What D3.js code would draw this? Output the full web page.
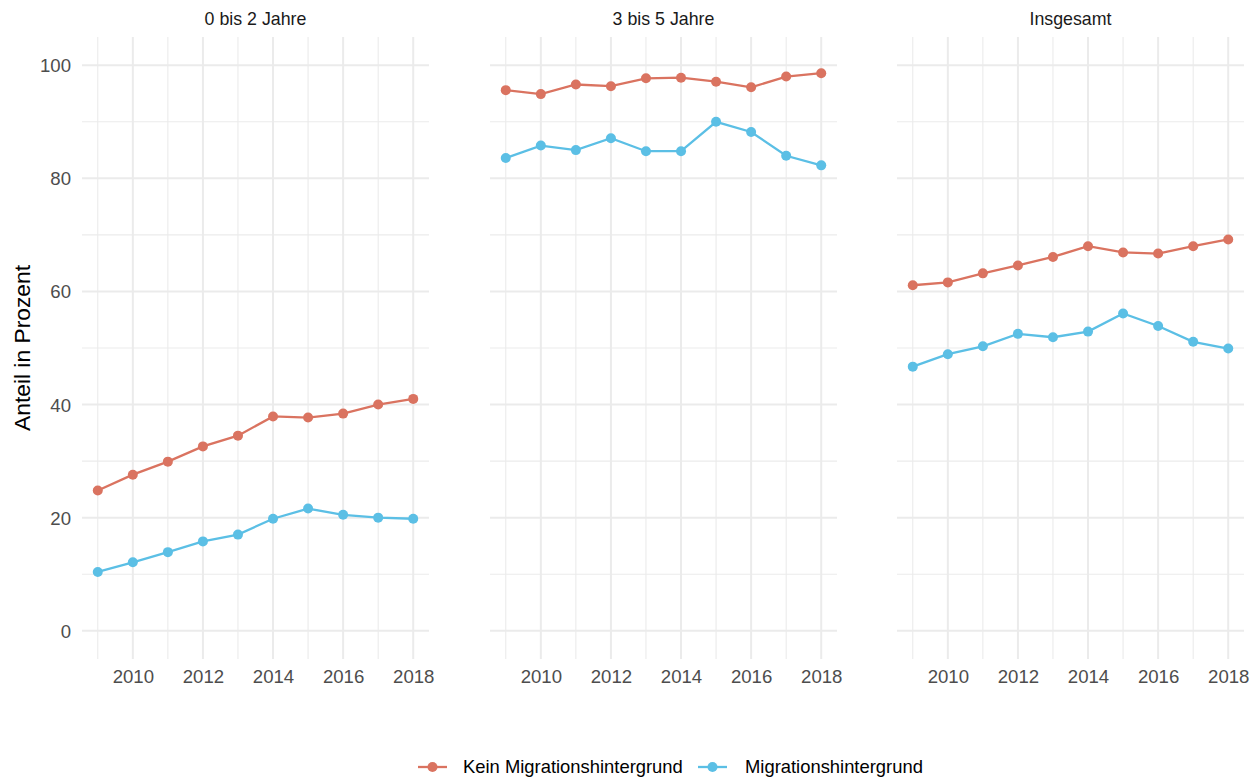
<!DOCTYPE html>
<html><head><meta charset="utf-8">
<script src="https://cdn.jsdelivr.net/npm/d3@7"></script>
<style>
html,body{margin:0;padding:0;background:#fff;}
svg{display:block;font-family:"Liberation Sans",Arial,sans-serif;}
</style></head>
<body>
<svg id="chart" width="1258" height="779"></svg>
<script>
const years = [2009,2010,2011,2012,2013,2014,2015,2016,2017,2018];
const facets = ["0 bis 2 Jahre","3 bis 5 Jahre","Insgesamt"];
const seriesNames = ["Kein Migrationshintergrund","Migrationshintergrund"];
const kein_0bis2 = [24.8,27.6,29.9,32.6,34.5,37.9,37.7,38.4,40.0,41.0];
const migr_0bis2 = [10.4,12.1,13.9,15.8,17.0,19.8,21.6,20.5,20.0,19.8];
const kein_3bis5 = [95.6,94.9,96.6,96.3,97.7,97.8,97.1,96.1,98.0,98.6];
const migr_3bis5 = [83.6,85.8,85.0,87.1,84.8,84.8,90.0,88.2,84.0,82.3];
const kein_ges = [61.1,61.6,63.2,64.6,66.1,68.0,66.9,66.7,68.0,69.2];
const migr_ges = [46.7,48.9,50.3,52.5,51.9,52.9,56.1,53.9,51.1,49.9];
const xTicks = [2010,2012,2014,2016,2018];
const yTicks = [0,20,40,60,80,100];
const yMinor = [10,30,50,70,90];

const colors = {"Kein Migrationshintergrund":"#DA7360","Migrationshintergrund":"#5BBFE5"};
const facetData = [
  {name:facets[0], series:[{name:seriesNames[0],values:kein_0bis2},{name:seriesNames[1],values:migr_0bis2}]},
  {name:facets[1], series:[{name:seriesNames[0],values:kein_3bis5},{name:seriesNames[1],values:migr_3bis5}]},
  {name:facets[2], series:[{name:seriesNames[0],values:kein_ges},{name:seriesNames[1],values:migr_ges}]}
];

const svg = d3.select("#chart");
const panelLefts = [82, 490, 897];
const panelW = 347;
const pTop = 37, pBottom = 659;
const y = d3.scaleLinear().domain([-5,105]).range([pBottom, pTop]);
const grid = "#EBEBEB";

facetData.forEach((f,i)=>{
  const x = d3.scaleLinear().domain([2008.55, 2018.45]).range([panelLefts[i], panelLefts[i]+panelW]);
  const g = svg.append("g");
  g.selectAll(".ymin").data(yMinor).join("line")
    .attr("x1",x.range()[0]).attr("x2",x.range()[1])
    .attr("y1",d=>y(d)).attr("y2",d=>y(d)).attr("stroke",grid).attr("stroke-width",1.1);
  g.selectAll(".xmin").data(years.filter(v=>!xTicks.includes(v))).join("line")
    .attr("x1",d=>x(d)).attr("x2",d=>x(d))
    .attr("y1",pTop).attr("y2",pBottom).attr("stroke",grid).attr("stroke-width",1.1);
  g.selectAll(".ymaj").data(yTicks).join("line")
    .attr("x1",x.range()[0]).attr("x2",x.range()[1])
    .attr("y1",d=>y(d)).attr("y2",d=>y(d)).attr("stroke",grid).attr("stroke-width",2);
  g.selectAll(".xmaj").data(xTicks).join("line")
    .attr("x1",d=>x(d)).attr("x2",d=>x(d))
    .attr("y1",pTop).attr("y2",pBottom).attr("stroke",grid).attr("stroke-width",2);

  const xa = d3.axisBottom(x).tickValues(xTicks).tickFormat(d3.format("d")).tickSize(0).tickPadding(0);
  const xg = svg.append("g").attr("transform",`translate(0,${pBottom+24})`).call(xa);
  xg.select(".domain").remove();
  xg.selectAll("text").attr("fill","#4D4D4D").attr("font-size","18.6px").attr("dy","0").attr("font-family","Liberation Sans, Arial, sans-serif");

  if(i===0){
    const ya = d3.axisLeft(y).tickValues(yTicks).tickSize(0).tickPadding(0);
    const yg = svg.append("g").attr("transform",`translate(71,0)`).call(ya);
    yg.select(".domain").remove();
    yg.selectAll("text").attr("fill","#4D4D4D").attr("font-size","18.6px").attr("dy","0.35em").attr("font-family","Liberation Sans, Arial, sans-serif");
  }

  svg.append("text").attr("x",(x.range()[0]+x.range()[1])/2).attr("y",25)
    .attr("text-anchor","middle").attr("font-size","17.8px").attr("fill","#1A1A1A").text(f.name);

  const line = d3.line().x((d,j)=>x(years[j])).y(d=>y(d));
  f.series.forEach(s=>{
    g.append("path").datum(s.values).attr("d",line).attr("fill","none")
      .attr("stroke",colors[s.name]).attr("stroke-width",2.3);
    g.selectAll(null).data(s.values).join("circle")
      .attr("cx",(d,j)=>x(years[j])).attr("cy",d=>y(d)).attr("r",5).attr("fill",colors[s.name]);
  });
});

svg.append("text").attr("transform","translate(30,348) rotate(-90)")
  .attr("text-anchor","middle").attr("font-size","22.8px").attr("fill","#000").text("Anteil in Prozent");

const legendItems = [
  {name:seriesNames[0], kx:418, tx:463},
  {name:seriesNames[1], kx:698, tx:745}
];
const ly = 767;
legendItems.forEach(it=>{
  svg.append("line").attr("x1",it.kx).attr("x2",it.kx+29).attr("y1",ly).attr("y2",ly)
    .attr("stroke",colors[it.name]).attr("stroke-width",2.3);
  svg.append("circle").attr("cx",it.kx+14.5).attr("cy",ly).attr("r",5).attr("fill",colors[it.name]);
  svg.append("text").attr("x",it.tx).attr("y",ly).attr("dy","0.35em").attr("font-size","18.4px").attr("fill","#000").text(it.name);
});
</script>
</body></html>
